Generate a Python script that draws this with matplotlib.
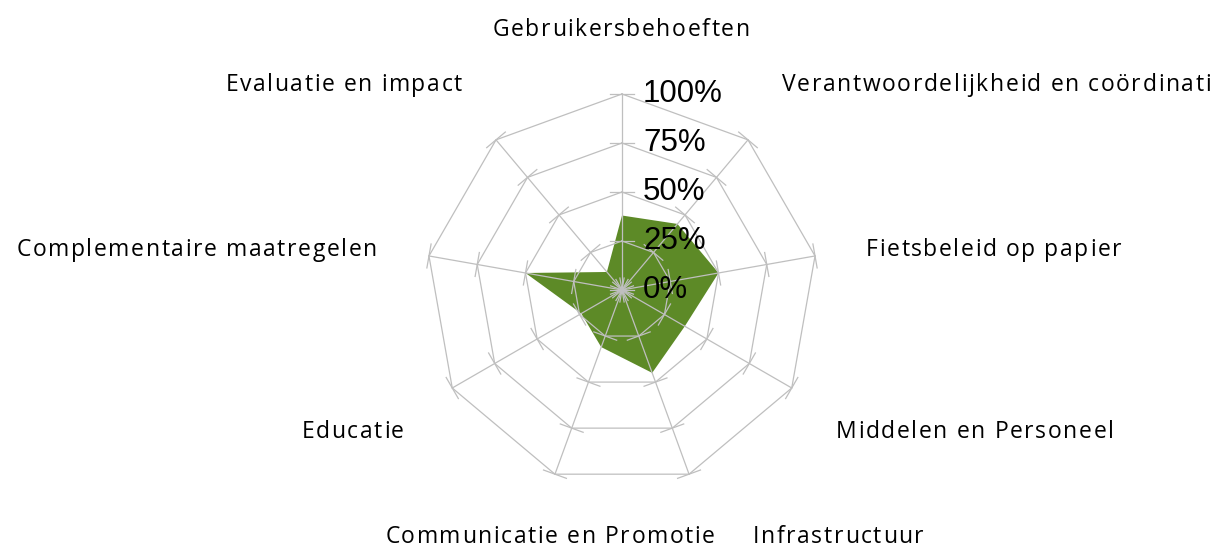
import numpy as np
import matplotlib.pyplot as plt
from matplotlib.font_manager import FontProperties
from matplotlib.transforms import IdentityTransform

categories = ["Gebruikersbehoeften", "Verantwoordelijkheid en coördinati",
              "Fietsbeleid op papier", "Middelen en Personeel", "Infrastructuur",
              "Communicatie en Promotie", "Educatie", "Complementaire maatregelen",
              "Evaluatie en impact"]
values = [38, 44, 50, 37, 45, 31, 24, 50, 12]
levels = [0, 25, 50, 75, 100]
level_labels = ["0%", "25%", "50%", "75%", "100%"]

W, H = 1215, 548
fig = plt.figure(figsize=(W / 100, H / 100), dpi=100)
# axes box 420x420 px, centre at (622, 290) px, 100% = 196 px
ax = fig.add_axes([412 / W, (H - 500) / H, 420 / W, 420 / H])
lim = 420 / 1.96 / 2
ax.set_xlim(-lim, lim)
ax.set_ylim(-lim, lim)
ax.set_aspect("equal")
ax.axis("off")

n = len(categories)
theta = 2 * np.pi * np.arange(n) / n
sx, sy = np.sin(theta), np.cos(theta)

v = np.array(values, dtype=float)
ax.fill(v * sx, v * sy, color="#5D8A27", lw=0, zorder=1)

grid = "#BFBFBF"
for lv in levels[1:]:
    ax.plot(np.append(lv * sx, lv * sx[0]), np.append(lv * sy, lv * sy[0]),
            color=grid, lw=0.9, zorder=2)
for i in range(n):
    ax.plot([0, 100 * sx[i]], [0, 100 * sy[i]], color=grid, lw=0.9, zorder=2)
    # tick marks perpendicular to each spoke
    px, py = sy[i], -sx[i]
    for lv in levels:
        cx, cy = lv * sx[i], lv * sy[i]
        ax.plot([cx - 6.2 * px, cx + 6.2 * px], [cy - 6.2 * py, cy + 6.2 * py],
                color=grid, lw=0.9, zorder=2)

for lv, lab in zip(levels, level_labels):
    ax.text(10.7, lv, lab, ha="left", va="center", fontsize=22.5,
            family="Liberation Sans", color="black", zorder=3)

# category labels, drawn char by char to get the wide letter spacing
prop = FontProperties(family="Open Sans", size=16.5)
renderer = fig.canvas.get_renderer()
spacing = 1.6


def inkw(s):
    return renderer.get_text_width_height_descent(s, prop, ismath=False)[0]


def spaced_text(s, x, baseline, ha):
    total = inkw(s) + spacing * (len(s) - 1)
    x0 = {"left": x, "right": x - total, "center": x - total / 2}[ha]
    for k, c in enumerate(s):
        if c == " ":
            continue
        dx = inkw(s[:k + 1]) - inkw(c) + spacing * k
        fig.text(x0 + dx, H - baseline, c, ha="left", va="baseline",
                 fontproperties=prop, color="black", transform=IdentityTransform())


# (x, baseline y, ha) in pixels from top-left
label_pos = [(621, 36.5, "center"), (782, 91, "left"), (866, 256, "left"),
             (836, 438, "left"), (753, 543, "left"), (550, 543, "center"),
             (404, 438, "right"), (377, 256, "right"), (462, 91, "right")]
for lab, (x, y, ha) in zip(categories, label_pos):
    spaced_text(lab, x, y, ha)

fig.savefig("out.png", dpi=100)
